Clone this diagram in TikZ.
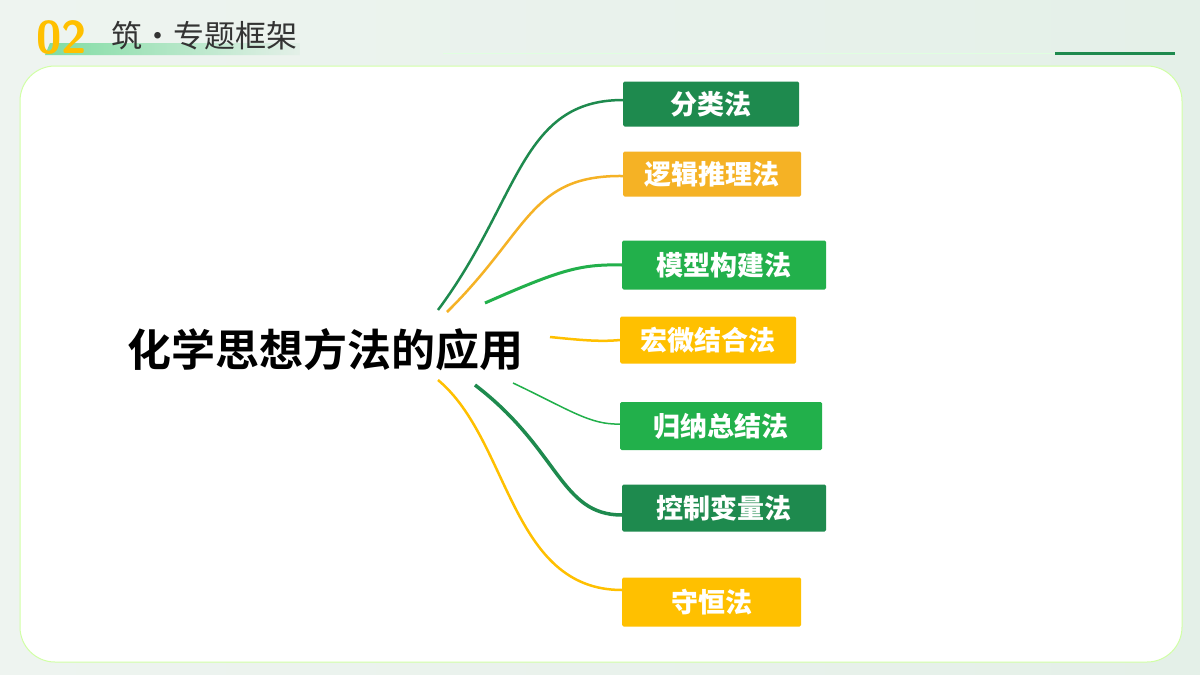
\documentclass[tikz,border=0pt]{standalone}
\usepackage{fontspec}
\newfontfamily\cjk{Noto Sans CJK SC}
\newfontfamily\cjkb{Noto Sans CJK SC Bold}
\definecolor{dg}{HTML}{1E8A4E}
\definecolor{lg}{HTML}{22B04B}
\definecolor{og}{HTML}{F5B225}
\definecolor{yl}{HTML}{FFC000}
\definecolor{bgA}{HTML}{EEF4F0}
\definecolor{bgB}{HTML}{E4F0E8}
\begin{document}
\begin{tikzpicture}[x=1pt,y=-1pt,
 box/.style={rounded corners=1.5pt,text=white,font=\cjk\bfseries\fontsize{27}{29}\selectfont,anchor=west,inner sep=0pt,minimum height=45pt},
 br/.style={line width=2.5pt}]
\useasboundingbox (0,0) rectangle (1200,675);
\shade[left color=bgA,right color=bgB] (0,0) rectangle (1200,675);
\fill[white,draw=green!35!lime!35!white,line width=1pt,rounded corners=35pt] (20,66) rectangle (1182,662);
\shade[left color=green!45!teal!50!white,right color=bgB] (50,43)--(300,43)--(300,55)--(45,55)--cycle;
\node[font=\sffamily\bfseries\fontsize{46}{46}\selectfont,text=yl,anchor=west,inner sep=0pt] (num) at (36,38) {02};
\node[font=\cjk\fontsize{31}{32}\selectfont,text=black!80,anchor=west,inner sep=0pt] (ttl) at (111,36) {筑·专题框架};
\draw[green!12!white,line width=1pt] (443,53)--(1175,53);
\draw[dg,line width=3pt] (1055,53)--(1175,53);
\node[font=\cjkb\fontsize{44}{46}\selectfont] (main) at (325,350) {化学思想方法的应用};
\node[box,fill=dg,minimum width=176pt] (a) at (623,104) {分类法};
\node[box,fill=og,minimum width=178pt] (b) at (623,174) {逻辑推理法};
\node[box,fill=lg,minimum width=204pt,minimum height=49pt] (c) at (622,265) {模型构建法};
\node[box,fill=yl,minimum width=176pt,minimum height=47pt] (d) at (620,340) {宏微结合法};
\node[box,fill=lg,minimum width=202pt,minimum height=48pt] (e) at (620,426) {归纳总结法};
\node[box,fill=dg,minimum width=204pt,minimum height=47pt] (f) at (622,508) {控制变量法};
\node[box,fill=yl,minimum width=179pt,minimum height=49pt] (g) at (622,602) {守恒法};
\coordinate (sa) at (438,310);\coordinate (sb) at (447,312);\coordinate (sc) at (485,303);
\coordinate (sd) at (550,337);\coordinate (se) at (513,383);\coordinate (sf) at (475,385);\coordinate (sg) at (438,380);
\draw[dg,br] (sa) .. controls (520,200) and (520,100) .. (a.west|-0,100);
\draw[og,br] (sb) .. controls (530,230) and (530,175) .. (b.west|-0,176);
\draw[lg,line width=3pt] (sc) .. controls (560,270) and (580,264) .. (c.west);
\draw[yl,br] (sd) .. controls (580,340) and (600,342) .. (d.west);
\draw[lg,line width=1.5pt] (se) .. controls (570,410) and (590,425) .. (e.west|-0,424);
\draw[dg,line width=3.5pt] (sf) .. controls (560,450) and (560,515) .. (f.west|-0,515);
\draw[yl,br] (sg) .. controls (510,440) and (510,590) .. (g.west|-0,590);
\end{tikzpicture}
\end{document}
